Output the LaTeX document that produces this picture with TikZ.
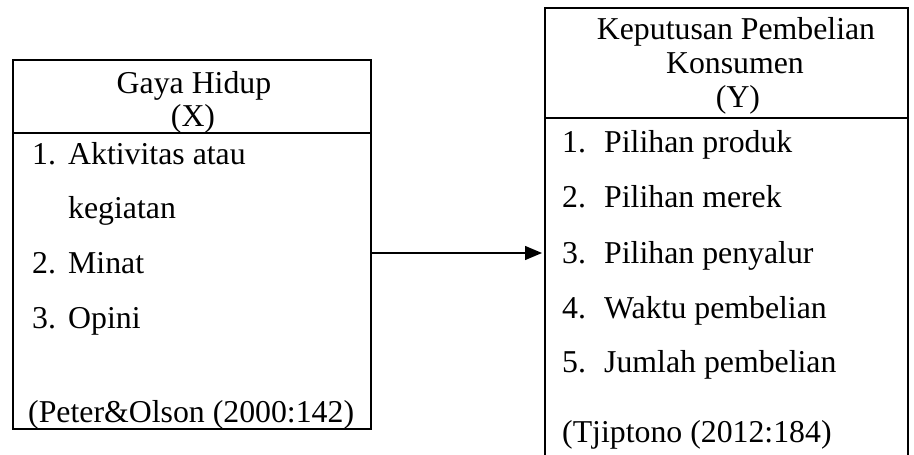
\documentclass[tikz,border=0pt]{standalone}
\usepackage{fontspec}
\setmainfont{Liberation Serif}
\usetikzlibrary{arrows.meta}
\tikzset{
  box/.style={draw=black, line width=2pt, rectangle, inner sep=0pt},
  txt/.style={anchor=base west, inner sep=0pt, font=\fontsize{31.8}{34}\selectfont},
  hdr/.style={anchor=base, inner sep=0pt, font=\fontsize{31.8}{34}\selectfont},
  conn/.style={line width=1.3pt, -{Triangle[length=17pt, width=14pt]}, shorten >=2pt},
}
\begin{document}
\begin{tikzpicture}[x=1pt, y=-1pt]
\useasboundingbox (0,0) rectangle (914,455);
\fill[white] (0,0) rectangle (914,455);
\begin{scope}
\clip (0,0) rectangle (914,455);
\node[box, minimum width=358pt, minimum height=369pt] (leftbox) at (192,244.5) {};
\node[box, minimum width=363pt, minimum height=462pt] (rightbox) at (726.5,239) {};
\end{scope}
\coordinate (lsep) at (0,133);
\coordinate (rsep) at (0,118);
\draw[line width=2pt] (leftbox.west |- lsep) -- (leftbox.east |- lsep);
\draw[line width=2pt] (rightbox.west |- rsep) -- (rightbox.east |- rsep);

% left header
\node[hdr] (lh1) at (194,93) {Gaya Hidup};
\node[hdr] (lh2) at (193,126) {(X)};
% left items
\node[txt] (ln1) at (32,164) {1.};
\node[txt] (lt1) at (68,164) {Aktivitas atau};
\node[txt] (lt1b) at (68,218) {kegiatan};
\node[txt] (ln2) at (32,273) {2.};
\node[txt] (lt2) at (68,273) {Minat};
\node[txt] (ln3) at (32,328) {3.};
\node[txt] (lt3) at (68,328) {Opini};
\node[txt] (lsrc) at (28,422) {(Peter\&Olson (2000:142)};

% right header
\node[hdr] (rh1) at (736,39) {Keputusan Pembelian};
\node[hdr] (rh2) at (735,73) {Konsumen};
\node[hdr] (rh3) at (738,107) {(Y)};
% right items
\node[txt] (rn1) at (562,152) {1.};
\node[txt] (rt1) at (604,152) {Pilihan produk};
\node[txt] (rn2) at (562,207) {2.};
\node[txt] (rt2) at (604,207) {Pilihan merek};
\node[txt] (rn3) at (562,263) {3.};
\node[txt] (rt3) at (604,263) {Pilihan penyalur};
\node[txt] (rn4) at (562,318) {4.};
\node[txt] (rt4) at (604,318) {Waktu pembelian};
\node[txt] (rn5) at (562,372) {5.};
\node[txt] (rt5) at (604,372) {Jumlah pembelian};
\node[txt] (rsrc) at (562,442) {(Tjiptono (2012:184)};

% connector
\coordinate (ay) at (0,253);
\draw[conn] (leftbox.east |- ay) -- (rightbox.west |- ay);
\end{tikzpicture}
\end{document}
